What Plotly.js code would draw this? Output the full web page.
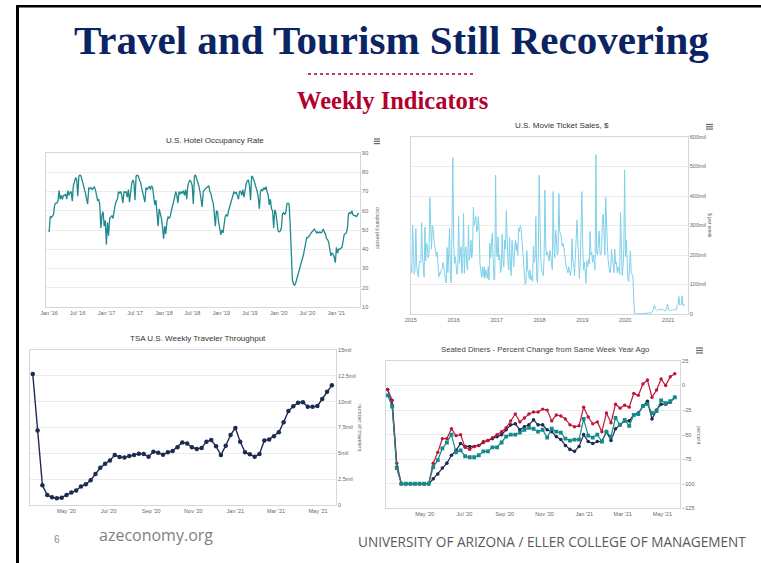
<!DOCTYPE html>
<html>
<head>
<meta charset="utf-8">
<script src="https://cdn.plot.ly/plotly-3.0.1.min.js"></script>
<style>
html,body{margin:0;padding:0;background:#fff;}
#chart{width:761px;height:563px;}
</style>
</head>
<body>
<div id="chart"></div>
<script>
// ---------------- DATA ----------------
// U.S. Hotel Occupancy Rate (percent), weekly from 2016-01-02
const hotelStart = '2016-01-02';
const hotelOcc = [
  // 2016
  49,57,56.5,57,58,63,64,64,65,70.5, 66,68,66,68,68,68.5,66,70.5,68,69.5,
  70,65,73,75,77,76.5,67.5,78,78.5,78, 76,74,72,69,66,63.5,72,71.5,72,71,
  71.5,72.5,71,67,65.5,66,63,51,58,59.5, 52,55,42.5,
  // 2017
  54,47,56,57,57.5,56,60,63,65,66, 70,69,70,68,64,70,69.5,70,67,71,
  64.5,71,74,76,75,65.5,78,78.5,78,76, 75,72,69,67,64.5,72,71,72,72.5,71,
  73,72,68,63,65.5,60,52,61,59,56, 51.5,45.5,
  // 2018
  52,48,54,57,56,57,60,62,65,67, 70,68,64,70,68.5,70,69,70.5,68,71,
  66,73,75,76,75,73,63.5,78,78.5,77, 75,73,70,67,62,70,71,71.5,72,72.5,
  73,70,69,66,64,59,52,60,59.5,54, 50,47.5,
  // 2019
  50,48.5,53,57,58,57,60,63,64,66, 69,70,69,69.5,68,66,70,70,68,71,
  67,72,74,75.5,76,73,65.5,78,77.5,76, 74,72.5,70,67,61,70,71,70.5,72,71,
  72.5,70,68,63,66,61,60,51,60.5,59, 54,49.5,
  // 2020
  49,49.5,51,58.5,59,58,59,63.5,64,63.5, 53,35,24,22,21.2,22.5,24.5,27,29,31,
  33,35,37,40,43,46,46,46.5,47.5,48.5, 49,50,50.5,49.5,48.5,49,48.5,49,48.5,49,
  50.5,49,48,45.5,45,43.5,40,36.5,38,37.5, 36,33,
  // 2021
  41,38,40,40,40.5,41,44,47.5,48,48.5, 51,58.5,59,58.5,60,58,57.5,57.5,57,57.5, 59
];

// U.S. Movie Ticket Sales ($ mil), weekly from 2015-01-02
const movieStart = '2015-01-02';
const movieSales = [
  // 2015
  166,140,300,180,135,150,290,160,130,125, 170,180,175,310,200,170,125,295,180,240,
  230,190,205,395,320,220,300,290,250,230, 215,195,210,160,125,140,135,150,155,175,
  160,140,110,105,225,140,210,290,130,105, 300,530,
  // 2016
  240,172,194,155,135,150,330,172,206,228, 138,175,341,138,217,228,160,149,300,183,
  200,250,190,220,362,302,313,330,279,285, 330,285,172,138,124,160,126,160,121,150,
  140,121,160,115,240,190,240,273,183,115, 120,471,217,
  // 2017
  194,262,183,200,140,150,270,185,160,250, 220,350,240,180,150,260,160,130,250,175,
  160,210,250,215,240,200,290,280,300,290, 250,200,160,130,100,110,215,150,140,120,
  150,115,130,110,230,175,190,330,120,105, 200,470,
  // 2018
  240,180,150,140,130,190,420,230,200,210, 185,180,215,200,175,150,415,230,190,285,
  260,200,210,408,280,270,260,230,240,225, 200,180,160,150,140,160,145,130,150,255,
  180,170,130,200,210,318,250,160,120,175, 290,415,
  // 2019
  230,150,175,125,104,180,160,185,170,280, 200,210,175,200,165,150,540,210,200,235,
  282,205,200,220,330,338,250,200,395,280, 230,180,165,140,150,220,190,170,140,220,
  170,175,140,160,150,135,345,240,130,160, 226,488,
  // 2020
  194,250,160,120,110,150,215,140,135,130, 55,1,0.5,0.3,0.3,0.4,0.5,0.6,0.8,1,
  1.2,1.5,1.5,2,2,2.5,2.5,3,3,3.5, 4,4,4,10,14,30,20,16,13,12,
  14,16,15,17,14,16,15,12,10,13, 14,33,
  // 2021
  16,13,12,11,13,12,15,13,14,16, 15,30,33,59,30,32,33,62,28,30, 34
];

// TSA U.S. weekly traveler throughput (millions), weekly from 2020-03-13
const tsaStart = '2020-03-13';
const tsaTravelers = [
  12.68,7.2,1.9,0.97,0.74,0.65,0.71,0.97,1.2,1.4,
  1.8,2.0,2.4,3.0,3.6,4.0,4.3,4.84,4.65,4.6,
  4.74,4.84,4.97,4.94,4.68,5.16,5.06,4.87,5.1,5.23,
  5.6,6.06,5.94,5.58,5.42,5.52,6.13,6.29,5.68,4.84,
  5.74,6.77,7.45,6.13,5.1,4.9,4.68,4.94,6.23,6.35,
  6.65,7.03,8.0,9.1,9.55,9.9,9.94,9.5,9.5,9.58,
  10.26,10.97,11.6
];

// Seated diners, % change from same week a year ago, weekly from 2020-03-05
const dinersStart = '2020-03-05';
const dinersRed = [
  -4,-15,-79,-100,-100,-100,-100,-100,-100,-100,
  -79,-68,-54,-54,-44,-51,-50,-63,-65,-62,
  -61,-57,-56,-53,-50,-47,-43,-36,-29,-37,
  -33,-29,-27,-27,-24,-25,-36,-30,-31,-34,
  -40,-42,-41,-22,-32,-39,-37,-47,-28,-38,
  -19,-23,-20,-22,-8,-10,1.6,5.6,-12,-4.5,
  6.7,0,9,12
];
const dinersNavy = [
  -4,-20,-83,-100,-100,-100,-100,-100,-100,-100,
  -95,-90,-84,-79,-71,-66,-59,-62,-62,-62,
  -61,-58,-56,-54,-52,-50,-45,-40,-39,-45,
  -42,-40,-35,-40,-40,-45,-47,-52,-55,-61,
  -65,-67,-62,-50,-57,-59,-57,-57,-47,-56,
  -44,-40,-36,-36,-30,-28,-21,-16,-34,-25,
  -19,-19,-17,-12
];
const dinersTeal = [
  -10,-21.5,-84,-100,-100,-100,-100,-100,-100,-100,
  -83,-76,-64,-58,-50,-68,-66,-72,-73,-73,
  -71,-67,-67,-63,-63,-58,-52,-50,-50,-48,
  -45,-43,-44,-47,-45,-53,-44,-47,-48,-54,
  -56,-55,-55,-34,-51,-53,-50,-57,-47,-52,
  -33,-40,-35,-41,-30,-29,-21,-19,-28,-26,
  -15,-18,-16,-12
];

// Tick labels
const hotelTicks = [10,20,30,40,50,60,70,80,90];
const movieTickVals = [0,100,200,300,400,500,600];
const movieTickText = ['0','100mil','200mil','300mil','400mil','500mil','600mil'];
const tsaTickVals = [0,2.5,5,7.5,10,12.5,15];
const tsaTickText = ['0','2.5mil','5mil','7.5mil','10mil','12.5mil','15mil'];
const dinersTicks = [-125,-100,-75,-50,-25,0,25];

// ---------------- HELPERS ----------------
const W = 761, H = 563;
const px = x => x / W;
const py = y => 1 - y / H;
function weekly(start, n) {
  const t0 = Date.parse(start + 'T00:00:00Z');
  const out = [];
  for (let i = 0; i < n; i++) out.push(new Date(t0 + i * 7 * 864e5).toISOString().slice(0, 10));
  return out;
}

const SANS = 'Liberation Sans, Arial, sans-serif';
const tickFont = {family: SANS, size: 5.5, color: '#666'};
const lineCol = '#d0d8e6';

function xAxis(x0, x1, range, dtick, tick0, fmt, anchor) {
  return {
    domain: [px(x0), px(x1)], range: range, type: 'date', anchor: anchor,
    dtick: dtick, tick0: tick0, tickformat: fmt, ticks: '', tickfont: tickFont,
    showgrid: false, showline: true, linecolor: lineCol, linewidth: 1, mirror: true,
    zeroline: false, fixedrange: true
  };
}
function yAxis(yTop, yBot, range, vals, text, anchor) {
  const a = {
    domain: [py(yBot), py(yTop)], range: range, side: 'right', anchor: anchor,
    tickmode: 'array', tickvals: vals, ticks: '', tickfont: tickFont,
    showgrid: true, gridcolor: '#ececec', gridwidth: 1,
    showline: true, linecolor: lineCol, linewidth: 1, mirror: true,
    zeroline: false, fixedrange: true
  };
  if (text) a.ticktext = text;
  return a;
}

// ---------------- TRACES ----------------
const navy = '#1d2b52', red = '#c2143a', teal = '#158a8a';
const traces = [
  {x: weekly(hotelStart, hotelOcc.length), y: hotelOcc, xaxis: 'x', yaxis: 'y',
   mode: 'lines', line: {color: '#1f8a8e', width: 1.3}, hoverinfo: 'none'},
  {x: weekly(movieStart, movieSales.length), y: movieSales, xaxis: 'x2', yaxis: 'y2',
   mode: 'lines', line: {color: '#7fd0ea', width: 1}, hoverinfo: 'none'},
  {x: weekly(tsaStart, tsaTravelers.length), y: tsaTravelers, xaxis: 'x3', yaxis: 'y3',
   mode: 'lines+markers', line: {color: navy, width: 1.4}, marker: {color: navy, size: 4.5}, hoverinfo: 'none'},
  {x: weekly(dinersStart, dinersNavy.length), y: dinersNavy, xaxis: 'x4', yaxis: 'y4',
   mode: 'lines+markers', line: {color: navy, width: 1.2}, marker: {color: navy, size: 3.6}, hoverinfo: 'none'},
  {x: weekly(dinersStart, dinersRed.length), y: dinersRed, xaxis: 'x4', yaxis: 'y4',
   mode: 'lines+markers', line: {color: red, width: 1.2}, marker: {color: red, size: 3.4}, hoverinfo: 'none'},
  {x: weekly(dinersStart, dinersTeal.length), y: dinersTeal, xaxis: 'x4', yaxis: 'y4',
   mode: 'lines+markers', line: {color: teal, width: 1.2}, marker: {color: teal, size: 3.8, symbol: 'square'}, hoverinfo: 'none'}
];

// ---------------- LAYOUT ----------------
function ann(text, x, y, size, color, extra) {
  return Object.assign({text: text, x: px(x), y: py(y), xref: 'paper', yref: 'paper',
    xanchor: 'center', yanchor: 'middle', showarrow: false,
    font: {family: SANS, size: size, color: color}}, extra || {});
}
function burger(x0, x1, ys) {
  return ys.map(y => ({type: 'line', xref: 'paper', yref: 'paper',
    x0: px(x0), x1: px(x1), y0: py(y), y1: py(y), line: {color: '#666', width: 1.2}}));
}

const layout = {
  width: W, height: H, margin: {l: 0, r: 0, t: 0, b: 0},
  paper_bgcolor: '#fff', plot_bgcolor: '#fff', showlegend: false,
  xaxis:  xAxis(46, 360, ['2015-12-13', '2021-06-01'], 'M6', '2016-01-01', "%b '%y", 'y'),
  yaxis:  yAxis(153, 307, [10, 90], hotelTicks, null, 'x'),
  xaxis2: xAxis(410.7, 687.7, ['2014-12-31', '2021-06-16'], 'M12', '2015-01-01', '%Y', 'y2'),
  yaxis2: yAxis(137, 314, [0, 600], movieTickVals, movieTickText, 'x2'),
  xaxis3: xAxis(30, 336, ['2020-03-09', '2021-05-27'], 'M2', '2020-05-01', "%b '%y", 'y3'),
  yaxis3: yAxis(350, 505, [0, 15], tsaTickVals, tsaTickText, 'x3'),
  xaxis4: xAxis(385.7, 680, ['2020-03-02', '2021-05-28'], 'M2', '2020-05-01', "%b '%y", 'y4'),
  yaxis4: yAxis(361, 508.3, [-125, 25], dinersTicks, null, 'x4'),
  annotations: [
    ann('<b>Travel and Tourism Still Recovering</b>', 391, 40, 41, '#0b2463', {font: {family: 'Liberation Serif, Times New Roman, serif', size: 41, color: '#0b2463'}}),
    ann('<b>Weekly Indicators</b>', 392, 100, 24.5, '#b3002d', {font: {family: 'Liberation Serif, Times New Roman, serif', size: 24.5, color: '#b3002d'}}),
    ann('U.S. Hotel Occupancy Rate', 215, 140, 8, '#333'),
    ann('U.S. Movie Ticket Sales, $', 562, 126, 8, '#333'),
    ann('TSA U.S. Weekly Traveler Throughput', 198, 338, 8, '#333'),
    ann('Seated Diners - Percent Change from Same Week Year Ago', 545, 349, 7.8, '#444'),
    ann('occupancy percent', 378, 228, 5, '#666', {textangle: 90}),
    ann('$ per week', 710, 225, 5, '#666', {textangle: 90}),
    ann('number of travelers', 360, 428, 5.5, '#666', {textangle: 90}),
    ann('percent', 699, 435, 5.5, '#666', {textangle: 90}),
    ann('6', 57, 539, 10, '#8c8c8c'),
    ann('azeconomy.org', 156, 535, 16, '#7f7f7f', {font: {family: 'Open Sans, sans-serif', size: 16, color: '#7f7f7f'}}),
    ann('UNIVERSITY OF ARIZONA / ELLER COLLEGE OF MANAGEMENT', 552, 541, 13.6, '#595959', {font: {family: 'Open Sans, sans-serif', size: 13.6, color: '#595959'}})
  ],
  shapes: [
    {type: 'line', xref: 'paper', yref: 'paper', x0: px(16), x1: 1, y0: py(6.2), y1: py(6.2), line: {color: '#000', width: 2.6}},
    {type: 'line', xref: 'paper', yref: 'paper', x0: px(17.5), x1: px(17.5), y0: py(5), y1: 0, line: {color: '#000', width: 3}},
    {type: 'line', xref: 'paper', yref: 'paper', x0: px(308), x1: px(475), y0: py(74), y1: py(74), line: {color: '#b0002a', width: 1.4, dash: 'dot'}}
  ].concat(burger(374, 380, [139, 141.3, 143.6]), burger(706, 713, [124.5, 126.8, 129.1]), burger(696, 703, [348, 350.5, 353]))
};

Plotly.newPlot('chart', traces, layout, {displayModeBar: false, staticPlot: true});
</script>
</body>
</html>
